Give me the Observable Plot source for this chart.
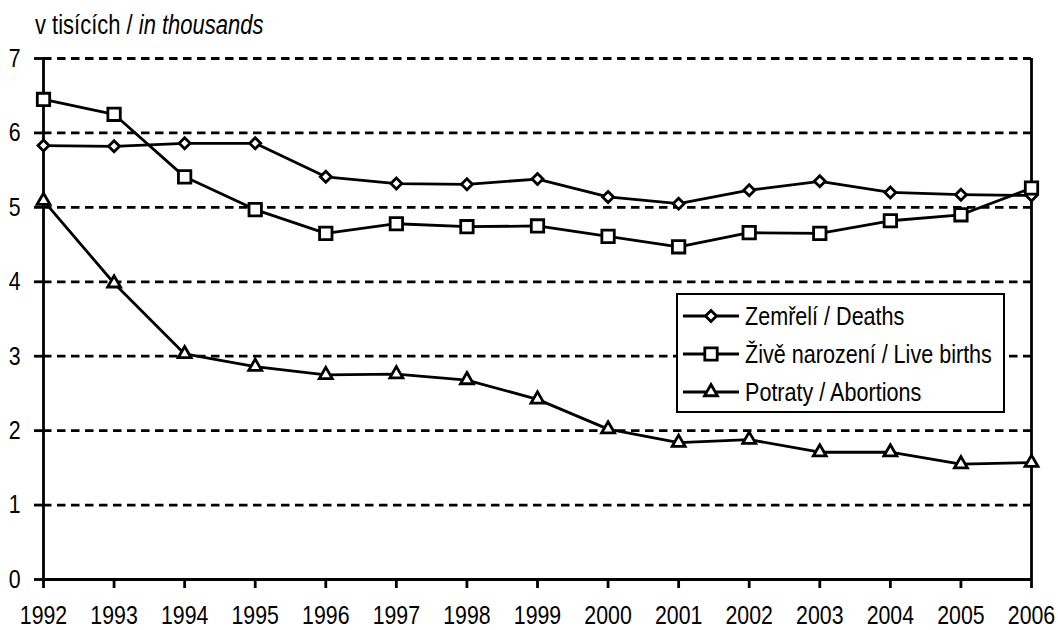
<!DOCTYPE html>
<html>
<head>
<meta charset="utf-8">
<script src="https://cdn.jsdelivr.net/npm/d3@7"></script>
<script src="https://cdn.jsdelivr.net/npm/@observablehq/plot@0.6"></script>
<style>
  html, body { margin: 0; padding: 0; background: #fff; }
  #wrap { position: relative; width: 1058px; height: 630px; font-family: "Liberation Sans", Arial, sans-serif; color: #000; }
  #title { height: 45px; box-sizing: border-box; padding-left: 35px; padding-top: 12px; font-size: 26.8px; line-height: 26px; white-space: nowrap; }
  .narrow { display: inline-block; transform: scaleX(0.82); transform-origin: 0 50%; white-space: nowrap; }
  #legend { position: absolute; left: 676px; top: 293px; width: 329px; height: 120px; box-sizing: border-box; border: 2.5px solid #000; background: #fff; padding-top: 2px; }
  .lrow { height: 38px; display: flex; align-items: center; font-size: 26.3px; white-space: nowrap; }
  .lrow svg { margin-left: 5px; margin-right: 6px; flex: none; }
  svg g[aria-label*="axis"] path, svg g[aria-label*="axis"] line { stroke-width: 2.8px !important; stroke: #000 !important; }
</style>
</head>
<body>
<div id="wrap">
  <div id="title"><span class="narrow">v tisících / <i>in thousands</i></span></div>
  <div id="chart"></div>
  <div id="legend"></div>
</div>
<script>
const years = [1992, 1993, 1994, 1995, 1996, 1997, 1998, 1999, 2000, 2001, 2002, 2003, 2004, 2005, 2006];
const deaths = [5.83, 5.82, 5.86, 5.86, 5.41, 5.32, 5.31, 5.38, 5.14, 5.05, 5.23, 5.35, 5.20, 5.17, 5.16];
const births = [6.45, 6.25, 5.41, 4.97, 4.65, 4.78, 4.74, 4.75, 4.61, 4.47, 4.66, 4.65, 4.82, 4.90, 5.26];
const abortions = [5.09, 3.98, 3.03, 2.86, 2.75, 2.76, 2.68, 2.42, 2.02, 1.84, 1.88, 1.71, 1.71, 1.55, 1.57];
const seriesNames = ["Zemřelí / Deaths", "Živě narození / Live births", "Potraty / Abortions"];
const seriesSymbols = ["diamond2", "square", "triangle"];
const symbolRadius = [4.95, 7.0, 4.8];
const yTicks = [0, 1, 2, 3, 4, 5, 6, 7];
const gridValues = [1, 2, 3, 4, 5, 6, 7];

const seriesValues = [deaths, births, abortions];
const rows = [];
seriesValues.forEach((vals, i) => years.forEach((yr, j) => rows.push({year: yr, value: vals[j], series: seriesNames[i]})));

const SW = 2.8;

const chart = Plot.plot({
  width: 1058,
  height: 585,
  marginTop: 13,
  marginBottom: 51,
  marginLeft: 43,
  marginRight: 27,
  style: {fontFamily: '"Liberation Sans", Arial, sans-serif', fontSize: "26px", color: "#000", background: "#fff", overflow: "visible"},
  x: {domain: [1992, 2006], ticks: years, tickFormat: d => String(d), tickSize: 9, tickPadding: 17, label: null},
  y: {domain: [0, 7], ticks: yTicks, tickFormat: d => String(d), tickSize: 9, tickPadding: 14, label: null},
  marks: [
    Plot.ruleY(gridValues, {stroke: "#000", strokeWidth: SW, strokeDasharray: "8.5,5.5"}),
    Plot.ruleX([1992, 2006], {stroke: "#000", strokeWidth: SW}),
    Plot.ruleY([0], {stroke: "#000", strokeWidth: SW}),
    Plot.line(rows, {x: "year", y: "value", z: "series", stroke: "#000", strokeWidth: SW}),
    ...seriesNames.map((name, i) => Plot.dot(rows.filter(d => d.series === name), {
      x: "year", y: "value", symbol: seriesSymbols[i], r: symbolRadius[i],
      fill: "#fff", stroke: "#000", strokeWidth: SW
    }))
  ]
});
document.getElementById("chart").appendChild(chart);

// condense SVG text horizontally (Arial Narrow look) around each label's anchor point
chart.querySelectorAll("text").forEach(t => {
  const bb = t.getBBox();
  const anchor = getComputedStyle(t).textAnchor;
  const ax = anchor === "end" ? bb.x + bb.width : anchor === "middle" ? bb.x + bb.width / 2 : bb.x;
  const tr = t.getAttribute("transform") || "";
  t.setAttribute("transform", `${tr} translate(${ax},0) scale(0.82,1) translate(${-ax},0)`);
});

// legend
const legend = document.getElementById("legend");
const symMap = {diamond2: d3.symbolDiamond2, square: d3.symbolSquare, triangle: d3.symbolTriangle};
seriesNames.forEach((name, i) => {
  const row = document.createElement("div");
  row.className = "lrow";
  const sw = d3.create("svg").attr("width", 56).attr("height", 20);
  sw.append("line").attr("x1", 0).attr("x2", 56).attr("y1", 10).attr("y2", 10).attr("stroke", "#000").attr("stroke-width", SW);
  const r = symbolRadius[i];
  sw.append("path").attr("transform", "translate(28,10)")
    .attr("d", d3.symbol(symMap[seriesSymbols[i]], r * r * Math.PI)())
    .attr("fill", "#fff").attr("stroke", "#000").attr("stroke-width", SW);
  row.appendChild(sw.node());
  const t = document.createElement("span");
  t.className = "narrow";
  t.textContent = name;
  row.appendChild(t);
  legend.appendChild(row);
});
</script>
</body>
</html>
